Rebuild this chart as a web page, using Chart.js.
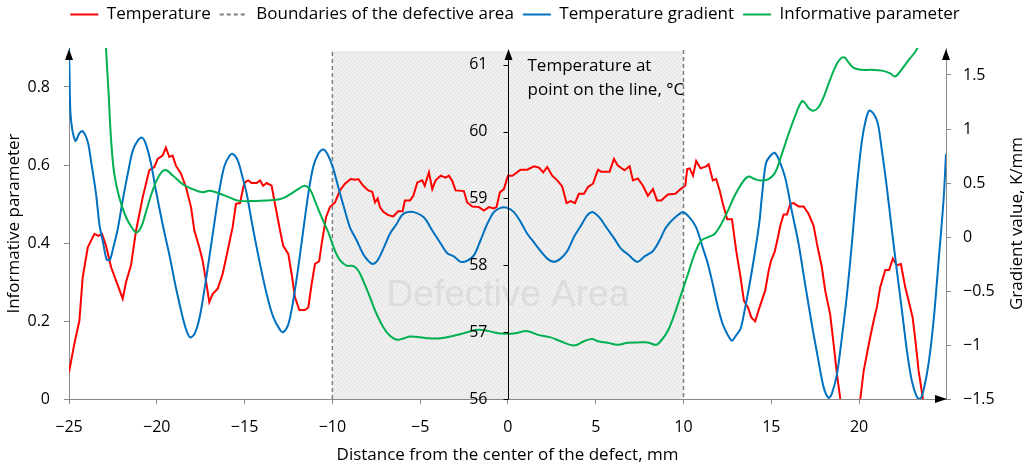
<!DOCTYPE html>
<html lang="en">
<head>
<meta charset="UTF-8">
<title>Temperature profile across the defect</title>
<style>
  html, body { margin: 0; padding: 0; background: #fff; }
  #chart { display: block; }
</style>
</head>
<body>
<canvas id="chart" width="1030" height="466"></canvas>
<script src="https://cdn.jsdelivr.net/npm/chart.js"></script>
<script>
// temperature along the line, °C (distance from defect centre, mm)
const tempX = [-25, -24.7, -24.41, -24.22, -23.93, -23.55, -23.33, -23.12, -22.89, -22.6, -22.32, -21.94, -21.75, -21.47, -21.18, -20.8, -20.43, -20.14, -19.95, -19.67, -19.48, -19.29, -19.1, -18.91, -18.62, -18.34, -18.05, -17.86, -17.58, -17.39, -17.2, -17.01, -16.82, -16.53, -16.25, -15.96, -15.68, -15.49, -15.26, -15.07, -14.98, -14.79, -14.6, -14.31, -14.12, -13.94, -13.74, -13.46, -13.27, -12.98, -12.8, -12.51, -12.32, -12.13, -11.88, -11.56, -11.37, -11.18, -10.99, -10.75, -10.61, -10.36, -10.14, -9.85, -9.57, -9.28, -8.96, -8.71, -8.52, -8.24, -7.96, -7.73, -7.57, -7.42, -7.29, -7.1, -6.82, -6.53, -6.25, -6.0, -5.87, -5.58, -5.39, -5.16, -4.88, -4.74, -4.5, -4.31, -4.12, -3.83, -3.55, -3.36, -3.17, -2.98, -2.51, -2.32, -2.03, -1.65, -1.37, -1.08, -0.8, -0.65, -0.46, -0.23, 0, 0.25, 0.72, 1.1, 1.48, 1.77, 2.01, 2.24, 2.52, 2.81, 3.09, 3.34, 3.57, 3.82, 4.04, 4.33, 4.56, 4.84, 5.13, 5.31, 5.79, 6.04, 6.26, 6.64, 6.93, 7.12, 7.4, 7.69, 7.97, 8.26, 8.49, 8.73, 9.11, 9.53, 9.83, 10.1, 10.21, 10.35, 10.54, 10.72, 10.97, 11.29, 11.43, 11.67, 11.86, 12.06, 12.24, 12.49, 12.76, 13.0, 13.25, 13.44, 13.67, 13.86, 14.08, 14.33, 14.65, 14.85, 14.99, 15.19, 15.38, 15.51, 15.7, 15.89, 16.08, 16.27, 16.55, 16.84, 17.12, 17.41, 17.6, 17.88, 18.07, 18.35, 18.55, 18.74, 18.93, 19.2, 19.5, 19.8, 20.07, 20.26, 20.54, 20.63, 20.83, 21.01, 21.2, 21.49, 21.71, 21.92, 22.15, 22.38, 22.63, 22.82, 23.05, 23.23, 23.39, 23.62, 23.9];
const tempY = [56.40, 56.82, 57.17, 57.82, 58.27, 58.47, 58.44, 58.47, 58.29, 57.97, 57.77, 57.50, 57.75, 58.00, 58.52, 59.02, 59.42, 59.47, 59.59, 59.64, 59.76, 59.62, 59.64, 59.49, 59.37, 59.17, 58.87, 58.52, 58.27, 58.07, 57.77, 57.45, 57.57, 57.65, 57.87, 58.22, 58.57, 58.92, 58.93, 59.17, 59.24, 59.27, 59.23, 59.23, 59.27, 59.19, 59.23, 59.19, 58.92, 58.52, 58.29, 58.17, 57.87, 57.52, 57.33, 57.33, 57.37, 57.72, 58.02, 58.06, 58.32, 58.72, 58.87, 58.94, 59.12, 59.22, 59.29, 59.28, 59.29, 59.19, 59.12, 59.10, 58.94, 59.00, 58.87, 58.80, 58.75, 58.73, 58.81, 58.81, 58.97, 58.97, 59.04, 59.24, 59.27, 59.19, 59.39, 59.14, 59.27, 59.34, 59.31, 59.34, 59.26, 59.12, 59.11, 58.94, 58.88, 58.87, 58.82, 58.87, 58.85, 58.87, 59.09, 59.14, 59.34, 59.34, 59.43, 59.43, 59.48, 59.46, 59.39, 59.47, 59.34, 59.27, 59.18, 58.93, 58.96, 58.93, 59.07, 59.07, 59.17, 59.22, 59.43, 59.40, 59.40, 59.59, 59.49, 59.42, 59.48, 59.27, 59.30, 59.19, 59.04, 59.14, 58.97, 58.97, 59.06, 59.07, 59.14, 59.19, 59.44, 59.45, 59.34, 59.56, 59.45, 59.48, 59.51, 59.27, 59.29, 59.12, 58.92, 58.69, 58.69, 58.22, 57.82, 57.47, 57.37, 57.22, 57.16, 57.37, 57.62, 57.92, 58.07, 58.20, 58.42, 58.59, 58.76, 58.76, 58.92, 58.93, 58.88, 58.88, 58.77, 58.59, 58.32, 57.97, 57.62, 57.27, 56.82, 56.37, 56.00, 55.60, 55.40, 55.60, 56.00, 56.42, 56.80, 56.92, 57.17, 57.37, 57.67, 57.93, 57.93, 58.10, 58.00, 58.02, 57.67, 57.47, 57.22, 56.82, 56.42, 56.03, 55.50];

// temperature gradient, K/mm
const gradX = [-25, -24.97, -24.9, -24.64, -24.41, -24.22, -23.93, -23.75, -23.46, -23.27, -23.05, -22.85, -22.67, -22.48, -22.23, -21.94, -21.66, -21.37, -21.09, -20.84, -20.62, -20.33, -20.05, -19.67, -19.29, -18.91, -18.53, -18.3, -18.11, -17.86, -17.58, -17.3, -17.01, -16.73, -16.44, -16.16, -15.87, -15.68, -15.39, -15.11, -14.88, -14.5, -14.12, -13.74, -13.37, -12.98, -12.8, -12.51, -12.23, -11.94, -11.66, -11.37, -11.09, -10.8, -10.52, -10.29, -9.98, -9.66, -9.28, -9.0, -8.62, -8.24, -7.96, -7.71, -7.44, -7.1, -6.72, -6.34, -6.05, -5.77, -5.35, -4.78, -4.31, -3.83, -3.46, -3.08, -2.69, -2.32, -1.94, -1.56, -1.18, -0.8, -0.42, -0.04, 0.34, 0.72, 1.1, 1.48, 1.86, 2.24, 2.62, 3.0, 3.38, 3.76, 4.14, 4.52, 4.84, 5.22, 5.6, 6.08, 6.45, 6.83, 7.36, 7.78, 8.26, 8.64, 9.01, 9.51, 9.97, 10.35, 10.72, 11.1, 11.39, 11.67, 11.96, 12.24, 12.53, 12.76, 13.0, 13.25, 13.48, 13.76, 14.05, 14.33, 14.46, 14.69, 14.94, 15.19, 15.45, 15.79, 16.17, 16.55, 16.93, 17.31, 17.69, 17.98, 18.26, 18.45, 18.74, 19.02, 19.31, 19.59, 19.87, 20.16, 20.39, 20.58, 20.83, 21.07, 21.3, 21.58, 21.87, 22.15, 22.44, 22.72, 23.0, 23.29, 23.48, 23.67, 23.95, 24.24, 24.53, 24.81, 24.95];
const gradY = [1.76, 1.50, 1.11, 0.89, 0.96, 0.98, 0.88, 0.71, 0.40, 0.12, -0.06, -0.21, -0.21, -0.10, 0.07, 0.34, 0.58, 0.80, 0.89, 0.92, 0.86, 0.68, 0.43, 0.12, -0.16, -0.47, -0.74, -0.87, -0.93, -0.90, -0.76, -0.50, -0.19, 0.12, 0.43, 0.65, 0.75, 0.77, 0.71, 0.55, 0.40, 0.06, -0.25, -0.53, -0.74, -0.86, -0.88, -0.81, -0.59, -0.28, 0.06, 0.40, 0.65, 0.77, 0.81, 0.77, 0.65, 0.46, 0.24, 0.09, -0.03, -0.16, -0.22, -0.25, -0.22, -0.11, 0.03, 0.12, 0.20, 0.23, 0.23, 0.18, 0.06, -0.06, -0.15, -0.18, -0.23, -0.22, -0.17, -0.03, 0.12, 0.23, 0.27, 0.27, 0.23, 0.14, 0.03, -0.05, -0.13, -0.20, -0.23, -0.20, -0.13, 0.00, 0.10, 0.20, 0.23, 0.18, 0.09, -0.02, -0.11, -0.16, -0.23, -0.18, -0.13, -0.03, 0.09, 0.18, 0.23, 0.18, 0.09, -0.10, -0.25, -0.44, -0.65, -0.81, -0.91, -0.96, -0.91, -0.85, -0.68, -0.44, -0.16, 0.15, 0.37, 0.68, 0.75, 0.78, 0.71, 0.55, 0.24, -0.06, -0.44, -0.81, -1.15, -1.39, -1.49, -1.45, -1.27, -0.93, -0.53, -0.06, 0.46, 0.89, 1.09, 1.17, 1.14, 1.05, 0.80, 0.46, 0.06, -0.31, -0.68, -1.05, -1.33, -1.48, -1.50, -1.42, -1.18, -0.78, -0.22, 0.34, 0.77];

// informative parameter
const infoX = [-23.0, -22.89, -22.74, -22.61, -22.42, -22.14, -21.75, -21.37, -21.15, -20.9, -20.62, -20.24, -19.86, -19.52, -19.09, -18.53, -17.96, -17.39, -17.01, -16.44, -15.87, -15.3, -14.31, -13.37, -12.8, -12.23, -11.85, -11.56, -11.28, -10.99, -10.61, -10.23, -9.85, -9.57, -9.19, -8.81, -8.52, -8.24, -7.86, -7.48, -7.1, -6.72, -6.34, -5.96, -5.58, -4.59, -3.83, -3.08, -2.32, -1.84, -1.46, -1.08, -0.42, 0.34, 1.1, 1.67, 2.43, 3.0, 3.76, 4.33, 4.78, 5.13, 5.69, 6.26, 6.83, 7.4, 7.97, 8.45, 8.73, 9.11, 9.49, 9.87, 10.25, 10.63, 11.01, 11.39, 11.77, 12.15, 12.53, 12.91, 13.29, 13.67, 14.05, 14.43, 14.85, 15.22, 15.6, 15.98, 16.36, 16.74, 16.93, 17.16, 17.41, 17.69, 17.98, 18.26, 18.64, 18.93, 19.17, 19.4, 19.69, 20.16, 20.73, 21.3, 21.77, 22.06, 22.44, 22.82, 23.29, 23.6];
const infoY = [1.0, 0.897, 0.78, 0.67, 0.577, 0.517, 0.466, 0.436, 0.427, 0.44, 0.479, 0.534, 0.573, 0.587, 0.573, 0.551, 0.538, 0.53, 0.534, 0.527, 0.517, 0.508, 0.508, 0.51, 0.515, 0.53, 0.541, 0.547, 0.538, 0.508, 0.466, 0.427, 0.38, 0.356, 0.342, 0.341, 0.329, 0.303, 0.261, 0.218, 0.184, 0.162, 0.152, 0.155, 0.16, 0.156, 0.156, 0.162, 0.171, 0.177, 0.177, 0.174, 0.168, 0.168, 0.174, 0.165, 0.158, 0.148, 0.137, 0.148, 0.154, 0.148, 0.144, 0.139, 0.144, 0.145, 0.145, 0.139, 0.15, 0.175, 0.218, 0.269, 0.32, 0.372, 0.406, 0.415, 0.423, 0.449, 0.483, 0.521, 0.551, 0.57, 0.564, 0.56, 0.564, 0.581, 0.628, 0.679, 0.726, 0.763, 0.758, 0.744, 0.739, 0.748, 0.774, 0.808, 0.851, 0.872, 0.876, 0.863, 0.849, 0.844, 0.844, 0.842, 0.835, 0.827, 0.846, 0.869, 0.897, 0.94];

const distTicks = [-25, -20, -15, -10, -5, 0, 5, 10, 15, 20];
const infoTicks = [0, 0.2, 0.4, 0.6, 0.8];
const gradTicks = [-1.5, -1, -0.5, 0, 0.5, 1, 1.5];
const tempTicks = [56, 57, 58, 59, 60, 61];
const defectBounds = [-10, 10];

const FONT = "'Open Sans', 'Noto Sans', sans-serif";
const AXIS_GRAY = '#898989';

const pairs = (xs, ys) => xs.map((x, i) => ({ x, y: ys[i] }));
const fmt = v => (v < 0 ? '\u2212' + Math.abs(v) : String(v));
const fixedTicks = list => scale => { scale.ticks = list.map(v => ({ value: v })); };

// dashed verticals at both edges of the defect, with a gap between them
const boundaryData = [
  { x: defectBounds[0], y: 0 }, { x: defectBounds[0], y: 0.895 },
  { x: 0, y: null },
  { x: defectBounds[1], y: 0.895 }, { x: defectBounds[1], y: 0 }
];

// fine diagonal hatch for the defect zone
const hatch = (() => {
  const c = document.createElement('canvas');
  c.width = 4; c.height = 4;
  const g = c.getContext('2d');
  g.fillStyle = '#f0f0f0';
  g.fillRect(0, 0, 4, 4);
  g.strokeStyle = '#e2e2e2';
  g.lineWidth = 1;
  g.beginPath();
  g.moveTo(0, 4); g.lineTo(4, 0);
  g.stroke();
  return c;
})();

function arrowUp(ctx, x, y) {
  ctx.beginPath();
  ctx.moveTo(x, y);
  ctx.lineTo(x - 4, y + 11);
  ctx.lineTo(x + 4, y + 11);
  ctx.closePath();
  ctx.fill();
}

function arrowRight(ctx, x, y) {
  ctx.beginPath();
  ctx.moveTo(x, y);
  ctx.lineTo(x - 12, y - 4);
  ctx.lineTo(x - 12, y + 4);
  ctx.closePath();
  ctx.fill();
}

// legend box keeps a fixed height so the plot starts at the same row
const legendSpace = {
  id: 'legendSpace',
  beforeInit(chart) {
    const fit = chart.legend.fit;
    chart.legend.fit = function () {
      fit.call(this);
      this.height = 51;
    };
  }
};

const defectZone = {
  id: 'defectZone',
  beforeDatasetsDraw(chart) {
    const { ctx, chartArea, scales } = chart;
    const x0 = scales.x.getPixelForValue(defectBounds[0]);
    const x1 = scales.x.getPixelForValue(defectBounds[1]);
    const top = chartArea.top + 3;
    ctx.save();
    ctx.fillStyle = ctx.createPattern(hatch, 'repeat');
    ctx.fillRect(x0, top, x1 - x0, chartArea.bottom - top);
    ctx.fillStyle = '#dcdcdc';
    ctx.font = "37px 'Liberation Sans', Arial, sans-serif";
    ctx.textAlign = 'center';
    ctx.textBaseline = 'middle';
    ctx.fillText('Defective Area', (x0 + x1) / 2, 296);
    ctx.restore();
  }
};

const axisDecor = {
  id: 'axisDecor',
  afterDatasetsDraw(chart) {
    const { ctx, chartArea, scales } = chart;
    const t = scales.yT;
    const cx = Math.round(scales.x.getPixelForValue(0)) + 0.5;
    ctx.save();

    // temperature axis through x = 0
    ctx.strokeStyle = '#000';
    ctx.lineWidth = 1;
    ctx.beginPath();
    ctx.moveTo(cx, chartArea.bottom);
    ctx.lineTo(cx, chartArea.top + 8);
    tempTicks.forEach(v => {
      const y = Math.round(t.getPixelForValue(v)) + 0.5;
      ctx.moveTo(cx - 5, y);
      ctx.lineTo(cx, y);
    });
    ctx.stroke();

    ctx.fillStyle = '#000';
    ctx.font = '16px ' + FONT;
    ctx.textAlign = 'right';
    ctx.textBaseline = 'middle';
    tempTicks.forEach(v => ctx.fillText(String(v), cx - 21, t.getPixelForValue(v)));

    ctx.font = '17px ' + FONT;
    ctx.textAlign = 'left';
    ctx.fillText('Temperature at', cx + 19, 66);
    ctx.fillText('point on the line, \u00B0C', cx + 19, 90);

    // arrow heads
    arrowUp(ctx, chartArea.left, chartArea.top + 1);
    arrowUp(ctx, cx, chartArea.top + 1);
    arrowUp(ctx, chartArea.right, chartArea.top + 1);
    arrowRight(ctx, chartArea.right + 1, chartArea.bottom);

    // right-hand axis title, read bottom to top
    ctx.translate(1017, (chartArea.top + chartArea.bottom) / 2);
    ctx.rotate(-Math.PI / 2);
    ctx.textAlign = 'center';
    ctx.fillText('Gradient value, K/mm', 0, 0);
    ctx.restore();
  }
};

const tickFont = { family: FONT, size: 16 };
const titleFont = { family: FONT, size: 17 };

new Chart(document.getElementById('chart'), {
  type: 'line',
  data: {
    datasets: [
      {
        label: 'Temperature',
        data: pairs(tempX, tempY),
        yAxisID: 'yT',
        borderColor: '#ff0000',
        borderWidth: 2,
        pointRadius: 0,
        tension: 0,
        order: 4
      },
      {
        label: 'Boundaries of the defective area',
        data: boundaryData,
        yAxisID: 'yI',
        borderColor: '#7f7f7f',
        borderWidth: 1.5,
        borderDash: [4, 3],
        pointRadius: 0,
        spanGaps: false,
        order: 3
      },
      {
        label: 'Temperature gradient',
        data: pairs(gradX, gradY),
        yAxisID: 'yG',
        borderColor: '#0070c0',
        borderWidth: 2,
        pointRadius: 0,
        tension: 0.3,
        order: 2
      },
      {
        label: 'Informative parameter',
        data: pairs(infoX, infoY),
        yAxisID: 'yI',
        borderColor: '#00b050',
        borderWidth: 2,
        pointRadius: 0,
        tension: 0.4,
        order: 1
      }
    ]
  },
  options: {
    responsive: false,
    animation: false,
    devicePixelRatio: 1,
    events: [],
    layout: { padding: { top: -3, left: 0, right: 0, bottom: 0 } },
    plugins: {
      tooltip: { enabled: false },
      legend: {
        position: 'top',
        labels: {
          usePointStyle: true,
          pointStyle: 'line',
          pointStyleWidth: 28,
          boxHeight: 17,
          padding: 9,
          color: '#000',
          font: { family: FONT, size: 17 },
          sort: (a, b) => a.datasetIndex - b.datasetIndex,
          generateLabels(chart) {
            return Chart.defaults.plugins.legend.labels.generateLabels(chart).map(item => {
              const ds = chart.data.datasets[item.datasetIndex];
              item.strokeStyle = ds.borderColor;
              item.lineWidth = 2;
              item.lineDash = ds.borderDash || [];
              return item;
            });
          }
        }
      }
    },
    scales: {
      x: {
        type: 'linear',
        position: 'bottom',
        min: -25,
        max: 24.95,
        afterBuildTicks: fixedTicks(distTicks),
        afterFit: s => { s.height = 67; },
        grid: { drawOnChartArea: false, tickLength: 5, color: AXIS_GRAY },
        border: { color: AXIS_GRAY },
        ticks: { font: tickFont, color: '#000', padding: 14, maxRotation: 0, callback: fmt },
        title: {
          display: true,
          text: 'Distance from the center of the defect, mm',
          font: titleFont,
          color: '#000',
          padding: { top: 0, bottom: 1 }
        }
      },
      yI: {
        type: 'linear',
        position: 'left',
        min: 0,
        max: 0.9,
        afterBuildTicks: fixedTicks(infoTicks),
        afterFit: s => { s.width = 69; },
        grid: { drawOnChartArea: false, tickLength: 5, color: AXIS_GRAY },
        border: { color: AXIS_GRAY },
        ticks: { font: tickFont, color: '#000', padding: 14, callback: fmt },
        title: {
          display: true,
          text: 'Informative parameter',
          font: titleFont,
          color: '#000',
          padding: { top: 4, bottom: 0 }
        }
      },
      yG: {
        type: 'linear',
        position: 'right',
        min: -1.5,
        max: 1.75,
        afterBuildTicks: fixedTicks(gradTicks),
        afterFit: s => { s.width = 84; },
        grid: { drawOnChartArea: false, tickLength: 5, color: AXIS_GRAY },
        border: { color: AXIS_GRAY },
        ticks: { font: tickFont, color: '#000', padding: 12, callback: fmt }
      },
      yT: {
        type: 'linear',
        display: false,
        min: 56,
        max: 61.25
      }
    }
  },
  plugins: [legendSpace, defectZone, axisDecor]
});
</script>
</body>
</html>
